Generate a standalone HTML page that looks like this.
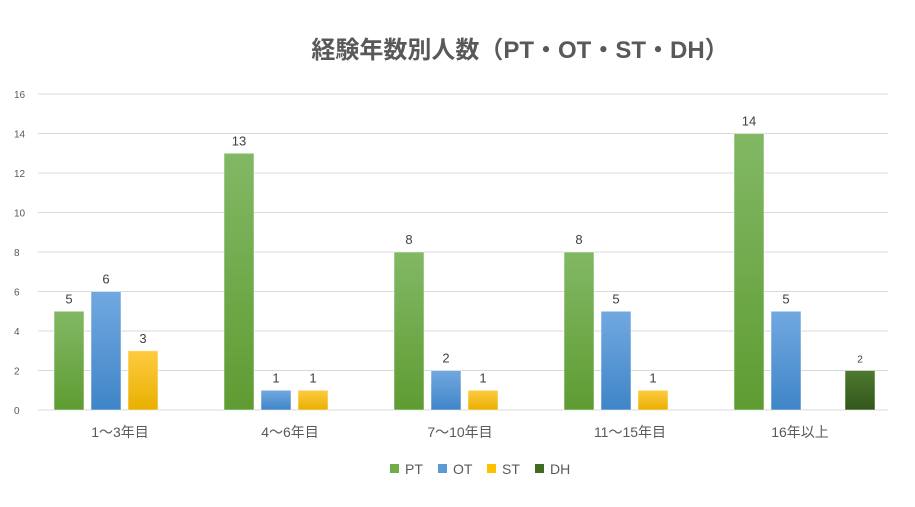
<!DOCTYPE html>
<html><head><meta charset="utf-8"><style>
body{margin:0;background:#fff;width:915px;height:502px;overflow:hidden;font-family:"Liberation Sans","Noto Sans CJK JP",sans-serif}
</style></head><body>
<svg id="c" width="915" height="502" xmlns="http://www.w3.org/2000/svg">
<defs>
<linearGradient id="gPT" x1="0" y1="0" x2="0" y2="1"><stop offset="0" stop-color="#82b865"/><stop offset="1" stop-color="#5e9c32"/></linearGradient>
<linearGradient id="gOT" x1="0" y1="0" x2="0" y2="1"><stop offset="0" stop-color="#72a8e0"/><stop offset="1" stop-color="#3f85c8"/></linearGradient>
<linearGradient id="gST" x1="0" y1="0" x2="0" y2="1"><stop offset="0" stop-color="#ffcb40"/><stop offset="1" stop-color="#e8b000"/></linearGradient>
<linearGradient id="gDH" x1="0" y1="0" x2="0" y2="1"><stop offset="0" stop-color="#4e7a30"/><stop offset="1" stop-color="#33561c"/></linearGradient>
</defs>
<text x="520" y="58" text-anchor="middle" font-size="24" font-weight="bold" fill="#595959">経験年数別人数（PT・OT・ST・DH）</text>
<g id="grid"></g><g id="bars"></g><g id="labels"></g>
<g font-size="14" fill="#595959">
<rect x="390" y="464" width="9" height="9" fill="#70ad47"/><text x="405" y="474">PT</text>
<rect x="438" y="464" width="9" height="9" fill="#5b9bd5"/><text x="453" y="474">OT</text>
<rect x="487" y="464" width="9" height="9" fill="#ffc000"/><text x="502" y="474">ST</text>
<rect x="535" y="464" width="9" height="9" fill="#3f6b23"/><text x="550" y="474">DH</text>
</g>
</svg>
<script>
const categories=["1〜3年目","4〜6年目","7〜10年目","11〜15年目","16年以上"];
const seriesNames=["PT","OT","ST","DH"];
const PT=[5,13,8,8,14];
const OT=[6,1,2,5,5];
const ST=[3,1,1,1,0];
const DH=[0,0,0,0,2];
const yTicks=[0,2,4,6,8,10,12,14,16];
const NS="http://www.w3.org/2000/svg";
const left=38,right=888,y0=410,yTop=94,yMax=16;
const y=v=>y0-(v/yMax)*(y0-yTop);
const gw=(right-left)/categories.length;
const bx=(gi,si)=>left+gi*gw+16+si*37;
function mk(t,a,p){const e=document.createElementNS(NS,t);for(const k in a)e.setAttribute(k,a[k]);p.appendChild(e);return e;}
const grid=document.getElementById('grid'),bars=document.getElementById('bars'),labels=document.getElementById('labels');
yTicks.forEach(t=>{
 const l=mk('line',{x1:left,x2:right,y1:y(t),y2:y(t),stroke:'#d9d9d9','stroke-width':1},grid);
 
 
 const tx=mk('text',{x:14,y:y(t)+4,'font-size':10,fill:'#595959'},grid);
 tx.textContent=t;
 
 
});
const all=[PT,OT,ST,DH];
categories.forEach((c,gi)=>{
 const tx=mk('text',{x:left+gi*gw+gw/2-3,y:437,'font-size':14,fill:'#595959','text-anchor':'middle'},labels);
 tx.textContent=c;
 
 
 all.forEach((s,si)=>{
  const v=s[gi]; if(!v) return;
  const r=mk('rect',{x:bx(gi,si),y:y(v),width:30,height:y0-y(v),fill:'url(#g'+seriesNames[si]+')',stroke:'#fff','stroke-opacity':0.5},bars);
  
  
  const lt=mk('text',{x:bx(gi,si)+15,y:y(v)-8,'font-size':si==3?10:13,fill:'#404040','text-anchor':'middle'},labels);
  lt.textContent=v;
  
  
 });
});
</script>
</body></html>
